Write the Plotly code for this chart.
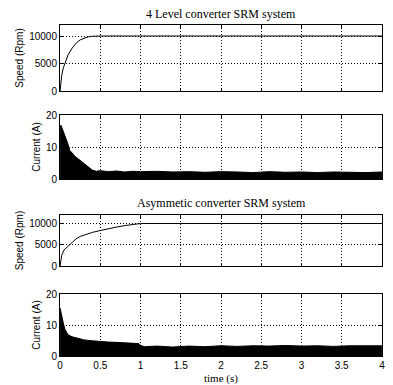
import plotly.graph_objects as go

# ---- data ----
t_speed_4l = [0, 0.01, 0.02, 0.04, 0.06, 0.08, 0.1, 0.15, 0.2, 0.25, 0.3, 0.35, 0.4, 0.45, 0.5, 1.0, 2.0, 3.0, 4.0]
speed_4l = [0, 1800, 2800, 4200, 5100, 5900, 6600, 7800, 8700, 9300, 9650, 9850, 9950, 10000, 10000, 10000, 10000, 10000, 10000]

t_cur_4l = [0, 0.01, 0.02, 0.04, 0.06, 0.08, 0.1, 0.12, 0.15, 0.18, 0.2, 0.25, 0.3, 0.35, 0.4, 0.45, 0.5,
            0.6, 0.7, 0.8, 0.9, 1.0, 1.2, 1.4, 1.6, 1.8, 2.0, 2.2, 2.4, 2.6, 2.8, 3.0, 3.2, 3.4, 3.6, 3.8, 4.0]
cur_4l = [16.0, 16.8, 16.2, 15.0, 13.8, 12.6, 10.8, 8.8, 8.2, 7.2, 6.8, 5.6, 4.6, 3.6, 2.8, 2.4, 2.6,
          2.3, 2.5, 2.2, 2.4, 2.3, 2.4, 2.2, 2.3, 2.1, 2.3, 2.2, 2.0, 2.3, 2.1, 2.2, 2.0, 2.2, 2.1, 2.0, 2.2]

t_speed_as = [0, 0.01, 0.02, 0.05, 0.1, 0.15, 0.2, 0.25, 0.3, 0.4, 0.5, 0.6, 0.7, 0.8, 0.9, 1.0, 2.0, 3.0, 4.0]
speed_as = [0, 1500, 2500, 3800, 4700, 5500, 6400, 6950, 7300, 7900, 8350, 8800, 9150, 9500, 9800, 10000, 10000, 10000, 10000]

t_cur_as = [0, 0.01, 0.02, 0.04, 0.06, 0.08, 0.1, 0.15, 0.2, 0.25, 0.3, 0.4, 0.5, 0.6, 0.7, 0.8, 0.9, 0.98,
            1.0, 1.05, 1.2, 1.4, 1.6, 1.8, 2.0, 2.2, 2.4, 2.6, 2.8, 3.0, 3.2, 3.4, 3.6, 3.8, 4.0]
cur_as = [15.5, 14.0, 12.4, 10.6, 8.6, 7.4, 6.8, 6.2, 5.8, 5.5, 5.2, 4.9, 4.6, 4.5, 4.4, 4.3, 4.2, 4.0,
          3.4, 3.0, 3.2, 2.9, 3.2, 3.0, 3.3, 3.1, 3.3, 3.2, 3.4, 3.2, 3.3, 3.1, 3.3, 3.2, 3.3]

x_ticks = [0, 0.5, 1, 1.5, 2, 2.5, 3, 3.5, 4]
x_tick_text = ["0", "0.5", "1", "1.5", "2", "2.5", "3", "3.5", "4"]
speed_ticks = [0, 5000, 10000]
speed_tick_text = ["0", "5000", "10000"]
cur_ticks = [0, 10, 20]

# ---- figure ----
fig = go.Figure()
fig.add_trace(go.Scatter(x=t_speed_4l, y=speed_4l, mode="lines",
                         line=dict(color="black", width=1), xaxis="x", yaxis="y"))
fig.add_trace(go.Scatter(x=t_cur_4l, y=cur_4l, mode="lines", fill="tozeroy",
                         fillcolor="black", line=dict(color="black", width=1), xaxis="x2", yaxis="y2"))
fig.add_trace(go.Scatter(x=t_speed_as, y=speed_as, mode="lines",
                         line=dict(color="black", width=1), xaxis="x3", yaxis="y3"))
fig.add_trace(go.Scatter(x=t_cur_as, y=cur_as, mode="lines", fill="tozeroy",
                         fillcolor="black", line=dict(color="black", width=1), xaxis="x4", yaxis="y4"))

# page body has an 8px margin -> figure is offset by 8px; work in reference pixel coords
OFF = 8
W, H = 393 - OFF, 385 - OFF
L, R, T, B = 60 - OFF, 8, 25 - OFF, 29
ph = H - T - B


def fy(px):  # reference pixel y -> figure pixel y
    return px - OFF


def dom(top_px, bot_px):
    return [(H - B - fy(bot_px)) / ph, (H - B - fy(top_px)) / ph]


def ypaper(px):
    return (H - B - fy(px)) / ph


tickfont = dict(family="Liberation Sans, Arial, sans-serif", size=10, color="black")
titlefont = dict(family="Liberation Sans, Arial, sans-serif", size=10, color="black")
serif = "Liberation Serif, Times New Roman, serif"

common = dict(showline=True, linecolor="black", linewidth=1, mirror="ticks",
              ticks="inside", ticklen=3, tickcolor="black",
              showgrid=True, gridcolor="black", griddash="1px,2px", gridwidth=1,
              zeroline=False, tickfont=tickfont)

xcommon = dict(common, range=[-0.001, 4.001], tickvals=x_ticks, ticktext=x_tick_text)

layout = dict(
    width=W, height=H,
    margin=dict(l=L, r=R, t=T, b=B),
    paper_bgcolor="white", plot_bgcolor="white",
    showlegend=False,
    xaxis=dict(xcommon, anchor="y", showticklabels=False),
    xaxis2=dict(xcommon, anchor="y2", showticklabels=False),
    xaxis3=dict(xcommon, anchor="y3", showticklabels=False),
    xaxis4=dict(xcommon, anchor="y4", showticklabels=True),
    yaxis=dict(common, anchor="x", domain=dom(25, 91), range=[0, 12000],
               tickvals=speed_ticks, ticktext=speed_tick_text,
               title=dict(text="Speed (Rpm)", font=titlefont, standoff=3)),
    yaxis2=dict(common, anchor="x2", domain=dom(115, 179), range=[0, 20], tickvals=cur_ticks,
                title=dict(text="Current (A)", font=titlefont, standoff=3)),
    yaxis3=dict(common, anchor="x3", domain=dom(215, 266), range=[0, 12000],
                tickvals=speed_ticks, ticktext=speed_tick_text,
                title=dict(text="Speed (Rpm)", font=titlefont, standoff=3)),
    yaxis4=dict(common, anchor="x4", domain=dom(294, 356), range=[0, 20], tickvals=cur_ticks,
                title=dict(text="Current (A)", font=titlefont, standoff=3)),
    annotations=[
        dict(text="4 Level converter SRM system", x=0.5, xref="paper", y=ypaper(14), yref="paper",
             yanchor="middle", showarrow=False, font=dict(family=serif, size=12, color="black")),
        dict(text="Asymmetic converter SRM system", x=0.5, xref="paper", y=ypaper(203), yref="paper",
             yanchor="middle", showarrow=False, font=dict(family=serif, size=12, color="black")),
        dict(text="time (s)", x=0.5, xref="paper", y=ypaper(378), yref="paper",
             yanchor="middle", showarrow=False, font=dict(family=serif, size=11, color="black")),
    ],
)
fig.update_layout(layout)
fig.write_html("out.html")
